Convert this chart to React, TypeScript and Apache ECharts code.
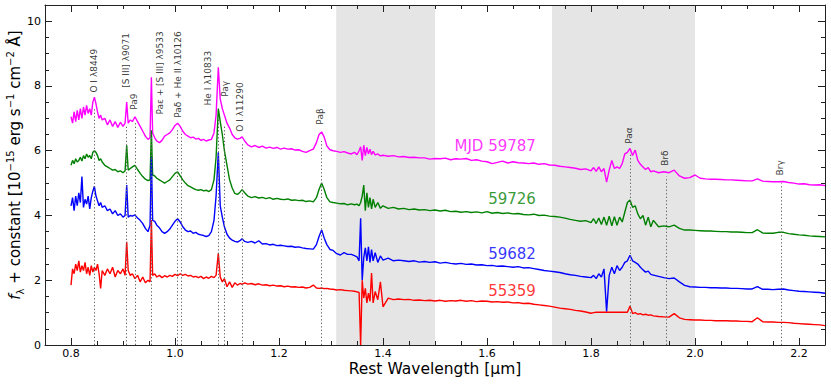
import React, { useEffect, useRef } from "react";
import * as echarts from "echarts";

// Rest wavelength grid (micron)
const wavelength = [
  0.800, 0.803, 0.806, 0.809, 0.812, 0.815, 0.818, 0.821, 0.824, 0.827,
  0.830, 0.833, 0.836, 0.839, 0.842, 0.845, 0.848, 0.851, 0.854, 0.857,
  0.860, 0.865, 0.870, 0.875, 0.880, 0.885, 0.890, 0.895, 0.900, 0.904,
  0.9071, 0.910, 0.914, 0.918, 0.923, 0.928, 0.933, 0.938, 0.943, 0.948,
  0.952, 0.9546, 0.957, 0.961, 0.965, 0.970, 0.975, 0.980, 0.985, 0.990,
  0.995, 1.000, 1.005, 1.010, 1.015, 1.020, 1.025, 1.030, 1.035, 1.040,
  1.045, 1.050, 1.055, 1.060, 1.065, 1.070, 1.075, 1.079, 1.0833, 1.087,
  1.091, 1.095, 1.100, 1.105, 1.110, 1.115, 1.120, 1.125, 1.129, 1.134,
  1.140, 1.147, 1.154, 1.161, 1.168, 1.175, 1.182, 1.189, 1.196, 1.203,
  1.210, 1.217, 1.224, 1.231, 1.238, 1.245, 1.252, 1.259, 1.266, 1.272,
  1.277, 1.282, 1.287, 1.292, 1.298, 1.304, 1.311, 1.318, 1.325, 1.332,
  1.339, 1.345, 1.350, 1.354, 1.357, 1.360, 1.363, 1.366, 1.369, 1.372,
  1.375, 1.378, 1.381, 1.385, 1.390, 1.395, 1.400, 1.410, 1.420, 1.430,
  1.440, 1.450, 1.460, 1.470, 1.480, 1.490, 1.500, 1.510, 1.520, 1.530,
  1.540, 1.550, 1.560, 1.570, 1.580, 1.590, 1.600, 1.610, 1.620, 1.630,
  1.640, 1.650, 1.660, 1.670, 1.680, 1.690, 1.700, 1.710, 1.720, 1.730,
  1.740, 1.750, 1.760, 1.770, 1.780, 1.790, 1.800, 1.805, 1.810, 1.815,
  1.820, 1.825, 1.830, 1.835, 1.840, 1.845, 1.850, 1.855, 1.860, 1.865,
  1.870, 1.875, 1.880, 1.885, 1.890, 1.895, 1.900, 1.905, 1.910, 1.915,
  1.920, 1.930, 1.940, 1.950, 1.960, 1.970, 1.980, 1.990, 2.000, 2.010,
  2.020, 2.030, 2.040, 2.050, 2.060, 2.070, 2.080, 2.090, 2.100, 2.110,
  2.120, 2.130, 2.140, 2.150, 2.160, 2.170, 2.180, 2.190, 2.200, 2.210,
  2.220, 2.230, 2.240, 2.250,
];

const mjd59787 = [
  7.05, 6.85, 7.2, 6.9, 7.25, 6.95, 7.3, 7.0, 7.35, 7.1,
  7.4, 7.15, 7.3, 7.1, 7.5, 7.65, 7.45, 7.2, 7.0, 7.1,
  6.95, 7.0, 6.8, 6.95, 6.75, 6.9, 6.72, 6.88, 6.75, 6.85,
  7.5, 6.85, 6.95, 6.9, 7.05, 6.9, 6.75, 6.6, 6.45, 6.35,
  6.4, 8.27, 6.55, 6.4, 6.3, 6.25, 6.32, 6.45, 6.5, 6.55,
  6.65, 6.78, 6.85, 6.75, 6.6, 6.5, 6.45, 6.4, 6.42, 6.36,
  6.38, 6.32, 6.35, 6.3, 6.33, 6.35, 6.55, 7.1, 8.58, 7.6,
  7.3, 7.1, 6.85, 6.7, 6.5, 6.4, 6.36, 6.38, 6.43, 6.3,
  6.18, 6.12, 6.16, 6.1, 6.14, 6.08, 6.11, 6.07, 6.1, 6.05,
  6.08, 6.05, 6.06, 6.02, 6.03, 5.98, 5.95, 6.0, 6.05, 6.25,
  6.5, 6.58, 6.42, 6.15, 6.03, 6.0, 5.98, 5.95, 5.97, 5.93,
  5.9, 5.95, 5.88, 6.0, 6.12, 5.7, 6.17, 5.85, 6.1, 5.9,
  6.05, 5.88, 5.98, 5.87, 5.9, 5.84, 5.86, 5.83, 5.85, 5.81,
  5.82, 5.79, 5.8, 5.78, 5.78, 5.74, 5.76, 5.75, 5.77, 5.72,
  5.75, 5.74, 5.76, 5.7, 5.72, 5.68, 5.66, 5.6, 5.64, 5.68,
  5.62, 5.66, 5.63, 5.62, 5.6, 5.62, 5.58, 5.6, 5.56, 5.55,
  5.52, 5.5, 5.48, 5.46, 5.42, 5.44, 5.38, 5.48, 5.36, 5.5,
  5.35, 5.45, 5.03, 5.4, 5.7, 5.45, 5.5, 5.45, 5.6, 5.9,
  5.95, 6.07, 5.85, 6.02, 5.7, 5.58, 5.5, 5.42, 5.48, 5.35,
  5.38, 5.32, 5.35, 5.32, 5.4, 5.22, 5.15, 5.17, 5.25, 5.15,
  5.13, 5.12, 5.12, 5.11, 5.1, 5.1, 5.09, 5.08, 5.07, 5.07,
  5.13, 5.06, 5.05, 5.04, 5.04, 5.05, 5.02, 5.0, 4.97, 4.98,
  4.95, 4.94, 4.95, 4.92,
];

const mjd59726 = [
  5.55, 5.7, 5.6, 5.75, 5.65, 5.7, 5.8, 5.68, 5.85, 5.75,
  5.9, 5.8, 5.85, 5.75, 5.95, 6.0, 5.95, 5.85, 5.7, 5.75,
  5.65, 5.55, 5.5, 5.45, 5.4, 5.42, 5.35, 5.38, 5.32, 5.38,
  6.17, 5.4, 5.45, 5.5, 5.55, 5.42, 5.3, 5.2, 5.12, 5.08,
  5.1, 6.63, 5.25, 5.22, 5.15, 5.1, 5.05, 5.0, 5.05, 5.1,
  5.2, 5.3, 5.35, 5.22, 5.1, 5.0, 4.92, 4.88, 4.84, 4.8,
  4.78, 4.8, 4.76, 4.78, 4.74, 4.8, 5.1, 5.8, 7.3, 6.9,
  6.5, 6.0, 5.55, 5.1, 4.85, 4.68, 4.65, 4.72, 4.8, 4.7,
  4.6, 4.55, 4.58, 4.54, 4.56, 4.52, 4.55, 4.5, 4.53, 4.5,
  4.49, 4.51, 4.47, 4.48, 4.46, 4.47, 4.43, 4.45, 4.42, 4.55,
  4.8, 5.0, 4.8, 4.55, 4.42, 4.4, 4.38, 4.36, 4.37, 4.33,
  4.36, 4.33, 4.35, 4.3, 4.4, 4.6, 4.94, 4.15, 4.7, 4.25,
  4.55, 4.2, 4.5, 4.25, 4.4, 4.22, 4.3, 4.22, 4.25, 4.2,
  4.22, 4.18, 4.2, 4.17, 4.18, 4.15, 4.17, 4.14, 4.16, 4.12,
  4.13, 4.1, 4.12, 4.09, 4.11, 4.08, 4.12, 4.07, 4.09, 4.06,
  4.08, 4.05, 4.06, 4.03, 4.02, 4.04, 4.0, 4.01, 3.98, 3.97,
  3.95, 3.92, 3.88, 3.85, 3.82, 3.84, 3.78, 3.9, 3.75, 3.92,
  3.72, 3.95, 3.7, 3.98, 3.68, 3.96, 3.7, 3.95, 3.8, 4.1,
  4.4, 4.48, 4.25, 4.3, 4.05, 3.9, 4.0, 3.7, 3.95, 3.65,
  3.85, 3.65, 3.68, 3.65, 3.7, 3.6, 3.55, 3.55, 3.54, 3.53,
  3.52, 3.52, 3.51, 3.5, 3.5, 3.49, 3.49, 3.48, 3.47, 3.47,
  3.56, 3.46, 3.45, 3.45, 3.48, 3.48, 3.44, 3.42, 3.4, 3.39,
  3.37, 3.36, 3.35, 3.34,
];

const mjd59682 = [
  4.3, 4.55, 4.15, 4.6, 4.3, 4.7, 4.4, 5.2, 4.25, 4.5,
  4.35, 4.6, 4.2, 4.55, 4.75, 4.9, 4.6, 4.45, 4.3, 4.4,
  4.25, 4.3, 4.15, 4.2, 4.05, 4.15, 4.0, 4.05, 3.95, 4.0,
  4.94, 3.95, 4.0, 3.98, 4.02, 3.92, 3.85, 3.75, 3.6, 3.5,
  3.7, 5.8, 3.85, 3.82, 3.7, 3.62, 3.5, 3.45, 3.5, 3.58,
  3.7, 3.82, 3.9, 3.8, 3.65, 3.55, 3.5, 3.52, 3.45, 3.48,
  3.42, 3.4, 3.38, 3.35, 3.38, 3.5, 3.85, 4.6, 5.95, 4.3,
  3.95, 3.65, 3.42, 3.3, 3.24, 3.2, 3.18, 3.22, 3.28, 3.2,
  3.17, 3.2, 3.15, 3.22, 3.12, 3.13, 3.09, 3.11, 3.07, 3.08,
  3.06, 3.04, 3.05, 3.02, 3.03, 3.0, 2.98, 2.97, 2.96, 3.1,
  3.35, 3.55, 3.3, 3.1, 2.95, 2.92, 2.82, 2.78, 2.85, 2.8,
  2.8, 2.76, 2.72, 2.6, 3.91, 2.0, 2.7, 3.0, 2.6, 3.03,
  2.55, 2.95, 2.6, 2.85, 2.55, 2.75, 2.62, 2.68, 2.6, 2.62,
  2.6, 2.58, 2.6, 2.56, 2.58, 2.55, 2.57, 2.53, 2.55, 2.52,
  2.5, 2.52, 2.49, 2.5, 2.47, 2.48, 2.45, 2.46, 2.43, 2.44,
  2.42, 2.4, 2.42, 2.38, 2.39, 2.36, 2.33, 2.3, 2.28, 2.26,
  2.24, 2.2, 2.17, 2.15, 2.12, 2.1, 2.08, 2.15, 2.05, 2.2,
  2.1, 2.35, 1.03, 2.15, 2.4, 2.2, 2.45, 2.3, 2.4, 2.55,
  2.6, 2.77, 2.6, 2.55, 2.5, 2.4, 2.32, 2.25, 2.28, 2.18,
  2.16, 2.12, 2.08, 2.05, 2.07, 1.95, 1.84, 1.8, 1.79, 1.78,
  1.78, 1.77, 1.77, 1.76, 1.76, 1.75, 1.75, 1.74, 1.73, 1.73,
  1.8, 1.72, 1.72, 1.71, 1.72, 1.73, 1.7, 1.68, 1.66, 1.65,
  1.64, 1.63, 1.62, 1.6,
];

const mjd55359 = [
  1.85, 2.35, 2.2, 2.5, 2.3, 2.6, 2.25, 2.45, 2.3, 2.55,
  2.2, 2.4, 2.15, 2.45, 2.25, 2.4, 2.3, 2.5, 2.2, 1.75,
  2.3, 2.15, 2.35, 2.2, 2.4, 2.1, 2.3, 2.2, 2.35, 2.15,
  3.19, 2.3, 2.15, 2.2, 2.05, 2.15, 1.95, 2.1, 1.92, 2.0,
  1.95, 3.86, 2.15, 2.2, 2.1, 2.15, 2.08, 2.14, 2.1, 2.15,
  2.12, 2.18, 2.14, 2.2, 2.15, 2.18, 2.13, 2.15, 2.1, 2.12,
  2.08, 2.12, 2.05, 2.1, 2.06, 2.12, 2.08, 2.15, 2.83, 2.1,
  1.95, 2.05, 1.8, 1.95, 1.78, 1.92, 1.85, 1.9, 1.87, 1.92,
  1.88, 1.9, 1.86, 1.89, 1.85, 1.86, 1.83, 1.85, 1.82, 1.83,
  1.8, 1.82, 1.79, 1.8, 1.78, 1.79, 1.76, 1.78, 1.85, 1.76,
  1.75, 1.76, 1.74, 1.75, 1.73, 1.72, 1.7, 1.71, 1.69, 1.68,
  1.67, 1.66, 1.64, 1.62, 0.0, 2.0, 1.45, 1.75, 1.3, 1.6,
  1.35, 2.22, 1.3, 1.65, 1.4, 1.95, 1.18, 1.45, 1.4, 1.42,
  1.4, 1.41, 1.38, 1.39, 1.37, 1.38, 1.36, 1.38, 1.35, 1.37,
  1.36, 1.38, 1.35, 1.37, 1.34, 1.36, 1.35, 1.33, 1.34, 1.32,
  1.33, 1.3, 1.31, 1.28, 1.29, 1.26, 1.24, 1.22, 1.2, 1.17,
  1.14, 1.12, 1.1, 1.07, 1.05, 1.02, 0.98, 1.0, 1.01, 1.01,
  1.01, 1.01, 1.01, 1.01, 1.01, 1.01, 1.01, 1.01, 1.01, 1.01,
  1.01, 1.2, 0.97, 1.0, 0.95, 0.97, 0.93, 0.95, 0.92, 0.93,
  0.9, 0.88, 0.87, 0.86, 0.97, 0.84, 0.79, 0.78, 0.77, 0.77,
  0.76, 0.76, 0.75, 0.75, 0.75, 0.74, 0.74, 0.73, 0.73, 0.72,
  0.84, 0.72, 0.71, 0.71, 0.7, 0.7, 0.69, 0.67, 0.66, 0.65,
  0.64, 0.63, 0.62, 0.6,
];

const spectrumNames = ["MJD 59787", "59726", "59682", "55359"];
const spectrumColors = ["#ff00ff", "#008000", "#0000ff", "#ff0000"];
// anchor (right end, vertical middle) of each spectrum's name, in data units
const nameAnchorWl = [1.695, 1.695, 1.695, 1.695];
const nameAnchorFlux = [6.14, 4.48, 2.81, 1.64];

// emission-line markers: wavelength and top of dotted line
const markerWl = [0.8449, 0.9071, 0.9229, 0.9546, 1.0049, 1.0126, 1.0833, 1.0938, 1.129, 1.2818, 1.8751, 1.9446, 2.1655];
const markerTop = [7.3, 6.8, 6.9, 6.5, 6.7, 6.6, 7.0, 6.8, 6.2, 6.3, 5.95, 5.2, 4.99];

// emission-line labels
const labelTexts = [
  "O I λ8449", "[S III] λ9071", "Pa9", "Paε + [S III] λ9533", "Paδ + He II λ10126",
  "He I λ10833", "Paγ", "O I λ11290", "Paβ", "Paα", "Brδ", "Brγ",
];
const labelWl = [0.8453, 0.9068, 0.9221, 0.9721, 1.0067, 1.0643, 1.097, 1.1258, 1.2794, 1.8747, 1.9438, 2.1647];
const labelBase = [7.78, 7.93, 7.25, 7.1, 7.0, 7.38, 7.65, 6.57, 6.79, 6.2, 5.52, 5.22];

// shaded telluric regions
const shadedRanges: [number, number][] = [[1.31, 1.5], [1.725, 2.0]];

const FONT = "DejaVu Sans";

export default function App() {
  const ref = useRef<HTMLDivElement>(null);
  useEffect(() => {
    if (!ref.current) return;
    const chart = echarts.init(ref.current, undefined, { renderer: "svg" });
    const spectra = [mjd59787, mjd59726, mjd59682, mjd55359];

    const axisCommon = {
      type: "value" as const,
      axisLine: { show: true, onZero: false, lineStyle: { color: "#222", width: 1 } },
      axisTick: { show: true, inside: true, length: 7, lineStyle: { color: "#222", width: 1 } },
      minorTick: { show: true, splitNumber: 4, length: 4, lineStyle: { color: "#222", width: 1 } },
      splitLine: { show: false },
      z: 10,
    };

    const option: any = {
      animation: false,
      grid: { left: 45, right: 6, top: 5, bottom: 39, containLabel: false },
      xAxis: [
        {
          ...axisCommon,
          position: "bottom",
          min: 0.75,
          max: 2.25,
          splitNumber: 7,
          axisLabel: {
            show: true,
            margin: 3,
            fontFamily: FONT,
            fontSize: 11,
            color: "#000",
            showMinLabel: false,
            showMaxLabel: false,
            formatter: (v: number) => v.toFixed(1),
          },
        },
        {
          ...axisCommon,
          position: "top",
          min: 0.75,
          max: 2.25,
          splitNumber: 7,
          axisLabel: { show: false },
        },
      ],
      yAxis: [
        {
          ...axisCommon,
          position: "left",
          min: 0,
          max: 10.5,
          interval: 2,
          axisLabel: {
            show: true,
            margin: 4,
            fontFamily: FONT,
            fontSize: 11,
            color: "#000",
            showMaxLabel: false,
          },
        },
        {
          ...axisCommon,
          position: "right",
          min: 0,
          max: 10.5,
          interval: 2,
          axisLabel: { show: false },
        },
      ],
      series: [
        {
          type: "line",
          data: [],
          z: 0,
          silent: true,
          markArea: {
            silent: true,
            itemStyle: { color: "#e5e5e5" },
            data: shadedRanges.map(([a, b]) => [{ xAxis: a }, { xAxis: b }]),
          },
          markLine: {
            silent: true,
            symbol: ["none", "none"],
            label: { show: false },
            lineStyle: { color: "#666", width: 1, type: [1.3, 2.2] },
            data: markerWl.map((w, i) => [{ coord: [w, 0] }, { coord: [w, markerTop[i]] }]),
          },
        },
        ...spectra.map((vals, si) => ({
          type: "line",
          name: spectrumNames[si],
          data: wavelength.map((w, i) => [w, vals[i]]),
          showSymbol: false,
          symbol: "none",
          z: 2,
          lineStyle: { color: spectrumColors[si], width: 1.4 },
          itemStyle: { color: spectrumColors[si] },
        })),
        {
          type: "scatter",
          z: 5,
          symbolSize: 1,
          itemStyle: { color: "rgba(0,0,0,0)" },
          silent: true,
          data: labelTexts.map((t, i) => ({ value: [labelWl[i], labelBase[i]], name: t })),
          label: {
            show: true,
            formatter: "{b}",
            position: [0, 0],
            rotate: 90,
            align: "left",
            verticalAlign: "middle",
            fontFamily: FONT,
            fontSize: 9,
            color: "#000",
          },
        },
        {
          type: "scatter",
          z: 5,
          symbolSize: 1,
          itemStyle: { color: "rgba(0,0,0,0)" },
          silent: true,
          data: spectrumNames.map((n, i) => ({
            value: [nameAnchorWl[i], nameAnchorFlux[i]],
            name: n,
            label: { color: spectrumColors[i] },
          })),
          label: {
            show: true,
            formatter: "{b}",
            position: [0, 0],
            align: "right",
            verticalAlign: "middle",
            fontFamily: FONT,
            fontSize: 15,
          },
        },
      ],
      graphic: [
        {
          type: "text",
          x: 435,
          y: 369,
          style: {
            text: "Rest Wavelength [μm]",
            fontFamily: FONT,
            fontSize: 15.5,
            fill: "#000",
            align: "center",
            verticalAlign: "middle",
          },
        },
        {
          type: "text",
          x: 15,
          y: 165,
          rotation: Math.PI / 2,
          style: {
            text: "{i|f}{sub|λ}{n| + constant [10}{sup|−15}{n| erg s}{sup|−1}{n| cm}{sup|−2}{n| Å]}",
            align: "center",
            verticalAlign: "middle",
            fill: "#000",
            rich: {
              n: { fontFamily: FONT, fontSize: 15, lineHeight: 20, fill: "#000" },
              i: { fontFamily: FONT, fontSize: 15, fontStyle: "italic", lineHeight: 20, fill: "#000" },
              sub: { fontFamily: FONT, fontSize: 10, verticalAlign: "bottom", lineHeight: 20, fill: "#000" },
              sup: { fontFamily: FONT, fontSize: 10, verticalAlign: "top", lineHeight: 20, fill: "#000" },
            },
          },
        },
      ],
    };
    chart.setOption(option);
    return () => chart.dispose();
  }, []);
  return (
    <div
      ref={ref}
      style={{ position: "fixed", left: 0, top: 0, width: 831, height: 384, background: "#fff" }}
    />
  );
}
